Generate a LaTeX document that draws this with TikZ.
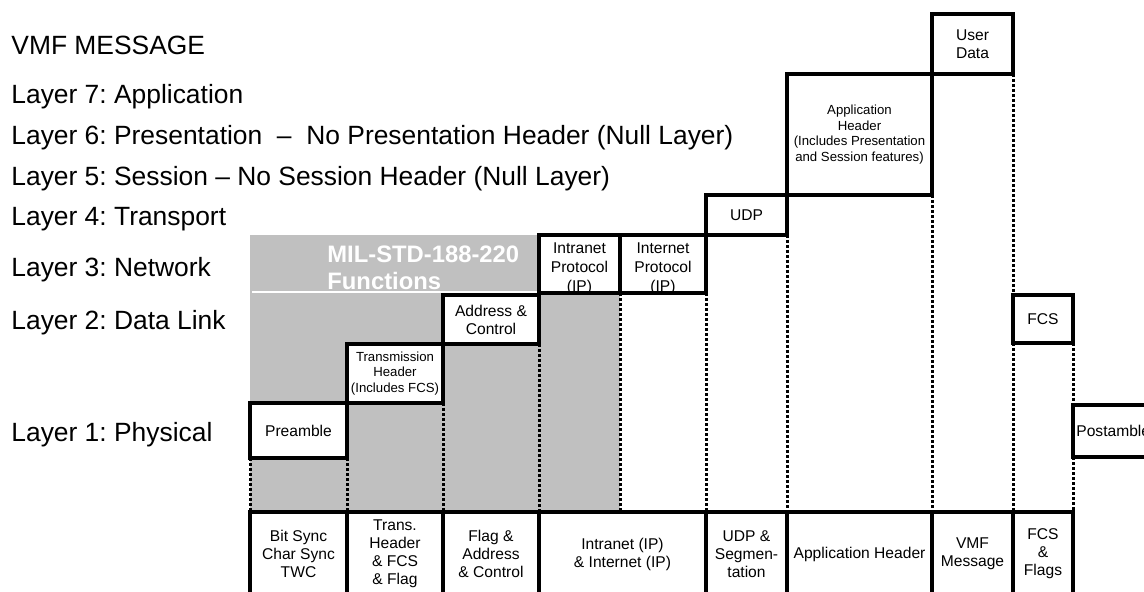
\documentclass[tikz,border=0pt]{standalone}
\usepackage{fontspec}
\setmainfont{Liberation Sans}
\usetikzlibrary{fit}
\definecolor{milgray}{RGB}{192,192,192}
\frenchspacing

\begin{document}
\begin{tikzpicture}[x=0.5pt,y=-0.5pt,
    layer/.style={anchor=base west,inner sep=0pt,font=\fontsize{13.2}{15}\selectfont},
    hdr/.style={draw,fill=white,line width=2pt,inner sep=0pt,outer sep=0pt},
    cell/.style={draw,line width=2pt,inner sep=0pt,outer sep=0pt},
    lab/.style={align=center,inner sep=0pt,font=\fontsize{7.8}{9}\selectfont},
    tag/.style={label={[lab]center:#1}},
    tagsmall/.style={label={[lab,font=\fontsize{6.6}{7.8}\selectfont]center:#1}},
    proto/.style={label={[lab,font=\fontsize{7.8}{9.5}\selectfont,yshift=-2.5pt]center:#1}},
    gap/.style={line width=1.5pt,dash pattern=on 1.5pt off 1pt}]
            \useasboundingbox (0,0) rectangle (1144,592);

            \node[layer] (vmf) at (11,55) {VMF MESSAGE};
            \node[layer] (l7) at (11,104) {Layer 7: Application};
            \node[layer] (l6) at (11,145) {Layer 6: Presentation\ \ --\ \ No Presentation Header (Null Layer)};
            \node[layer] (l5) at (11,186) {Layer 5: Session -- No Session Header (Null Layer)};
            \node[layer] (l4) at (11,226) {Layer 4: Transport};
            \node[layer] (l3) at (11,277) {Layer 3: Network};
            \node[layer] (l2) at (11,330) {Layer 2: Data Link};
            \node[layer] (l1) at (11,442) {Layer 1: Physical};

            \node[fill=milgray,inner sep=0pt,fit={(250,235) (620,512)}] (mil) {};
            \draw[white,line width=1pt] (252,292) -- (539,292);
            \node[anchor=north west,inner sep=0pt,align=left,text=white,font=\bfseries\fontsize{11.9}{13.5}\selectfont] (miltxt) at (327,245) {MIL-STD-188-220\\Functions};

            \node[hdr,tag={User\\Data},fit={(932,14) (1013,74)}] (usr) {};
            \node[hdr,tagsmall={Application\\Header\\(Includes Presentation\\and Session features)},fit={(787,74) (932,195)}] (app) {};
            \node[hdr,tag={UDP},fit={(706,195) (787,235)}] (udp) {};
            \node[hdr,proto={Intranet\\Protocol\\(IP)},fit={(539,235) (620,293)}] (intra) {};
            \node[hdr,proto={Internet\\Protocol\\(IP)},fit={(620,235) (706,293)}] (inet) {};
            \node[hdr,tag={Address \&\\Control},fit={(443,295) (539,344)}] (addr) {};
            \node[hdr,tagsmall={Transmission\\Header\\(Includes FCS)},fit={(347,344) (443,403)}] (trans) {};
            \node[hdr,tag={Preamble},fit={(250,403) (347,458)}] (pre) {};
            \node[hdr,tag={FCS},fit={(1013,295) (1073,343)}] (fcs) {};
            \node[hdr,label={[lab,anchor=west,inner sep=1.5pt]west:Postamble},fit={(1073,405) (1170,457)}] (post) {};

            \node[cell,tag={Bit Sync\\Char Sync\\TWC},fit={(250,512) (347,596)}] (c1) {};
            \node[cell,tag={Trans.\\Header\\\& FCS\\\& Flag},fit={(347,512) (443,596)}] (c2) {};
            \node[cell,tag={Flag \&\\Address\\\& Control},fit={(443,512) (539,596)}] (c3) {};
            \node[cell,tag={Intranet (IP)\\\& Internet (IP)},fit={(539,512) (706,596)}] (c4) {};
            \node[cell,tag={UDP \&\\Segmen-\\tation},fit={(706,512) (787,596)}] (c5) {};
            \node[cell,tag={Application Header},fit={(787,512) (932,596)}] (c6) {};
            \node[cell,tag={VMF\\Message},fit={(932,512) (1013,596)}] (c7) {};
            \node[cell,tag={FCS\\\&\\Flags},fit={(1013,512) (1073,596)}] (c8) {};

            \draw[gap] (pre.south west) -- (c1.north west);
            \draw[gap] (pre.south east) -- (c2.north west);
            \draw[gap] (trans.south east) -- (c3.north west);
            \draw[gap] (addr.south east) -- (c4.north west);
            \draw[gap] (intra.south east) -- (intra.south east |- c4.north);
            \draw[gap] (inet.south east) -- (c5.north west);
            \draw[gap] (udp.south east) -- (c6.north west);
            \draw[gap] (app.south east) -- (c7.north west);
            \draw[gap] (usr.south east) -- (fcs.north west);
            \draw[gap] (fcs.south west) -- (c8.north west);
            \draw[gap] (fcs.south east) -- (post.north west);
            \draw[gap] (post.south west) -- (c8.north east);
        \end{tikzpicture}
\end{document}
